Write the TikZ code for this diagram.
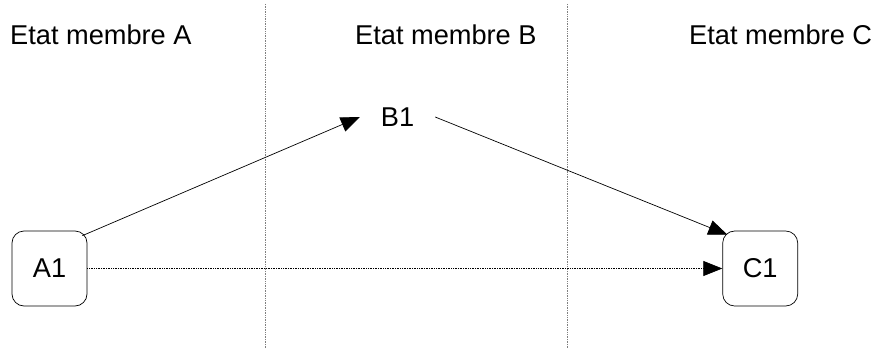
\documentclass[tikz,border=0pt]{standalone}
\usepackage{fontspec}
\setmainfont{Liberation Sans}
\usetikzlibrary{positioning,arrows.meta}

\begin{document}
\begin{tikzpicture}[x=1pt, y=1pt,
    every node/.style = {font=\fontsize{27.2}{30}\selectfont},
    state/.style = {draw, rounded corners=12pt, minimum width=75pt, minimum height=75pt, line width=0.7pt},
    zone/.style = {inner sep=0pt, anchor=base west},
    border/.style = {draw=gray, densely dotted, line width=0.7pt},
    flow/.style = {-{Triangle[length=19pt,width=15pt]}, line width=0.7pt}]
    \useasboundingbox (0,0) rectangle (878,349);

    % member states
    \node[zone] (za) at (10,305) {Etat membre A};
    \node[zone] (zb) at (355,305) {Etat membre B};
    \node[zone] (zc) at (689,305) {Etat membre C};

    \draw[border] (265,345) -- (265,0);
    \draw[border] (567,345) -- (567,0);

    \node[state] (A1) at (49.5,80.5) {A1};
    \node[state, right=635pt of A1] (C1) {C1};
    \node[minimum width=75pt] (B1) at (397.5,232) {B1};

    \draw[flow] ([xshift=-5pt,yshift=-5pt]A1.north east) -- (B1.west);
    \draw[flow] (B1.east) -- ([xshift=5pt,yshift=-4pt]C1.north west);
    \draw[flow, densely dotted] (A1.east) -- (C1.west);
\end{tikzpicture}
\end{document}
